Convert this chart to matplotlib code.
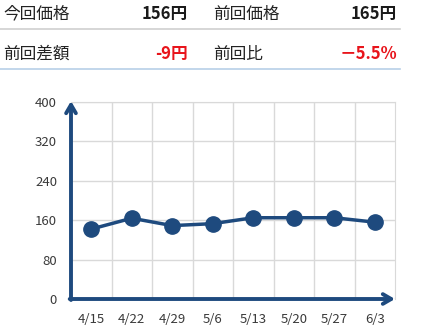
import matplotlib
matplotlib.use("Agg")
from matplotlib import pyplot as plt
from matplotlib.lines import Line2D

plt.rcParams['font.family'] = ['Noto Sans CJK JP', 'DejaVu Sans']

dates = ['4/15', '4/22', '4/29', '5/6', '5/13', '5/20', '5/27', '6/3']
prices = [142, 164, 149, 153, 165, 165, 165, 156]
y_ticks = [0, 80, 160, 240, 320, 400]

header_labels = ['今回価格', '前回価格', '前回差額', '前回比']
header_values = ['156円', '165円', '-9円', '－5.5%']
header_colors = ['#1a1a1a', '#1a1a1a', '#e8141b', '#e8141b']

navy = '#1e4a7e'
W, H = 428, 334

fig = plt.figure(figsize=(W / 100, H / 100), dpi=100)

# header table
rows_y = [14, 54]
for i, (lab, val, col) in enumerate(zip(header_labels, header_values, header_colors)):
    r, c = divmod(i, 2)
    y = 1 - rows_y[r] / H
    xl = (3 if c == 0 else 213) / W
    xr = (188 if c == 0 else 397) / W
    fig.text(xl, y, lab, fontsize=12, color='#222222', va='center', ha='left')
    fig.text(xr, y, val, fontsize=12, color=col, va='center', ha='right', fontweight='bold')
fig.add_artist(Line2D([0, 400 / W], [1 - 28.5 / H] * 2, color='#d0d0d0', lw=1.2))
fig.add_artist(Line2D([0, 400 / W], [1 - 68.5 / H] * 2, color='#b8cfe8', lw=1.2))

# chart
ax = fig.add_axes([71 / W, 1 - 299 / H, (395 - 71) / W, (299 - 102) / H])
x = list(range(len(dates)))
ax.plot(x, prices, color=navy, lw=2.5, marker='o', markersize=11, zorder=3)
ax.set_xlim(-0.5, len(dates) - 0.5)
ax.set_ylim(0, 400)
ax.set_yticks(y_ticks)
ax.set_xticks(x)
ax.set_xticklabels(dates)
ax.set_xticks([i + 0.5 for i in range(len(dates) - 1)], minor=True)
ax.grid(True, which='minor', axis='x', color='#d9d9d9', lw=1)
ax.grid(True, which='major', axis='y', color='#d9d9d9', lw=1)
ax.tick_params(which='both', length=0)
ax.tick_params(axis='y', pad=10, labelsize=9.5, labelcolor='#3a3a3a')
ax.tick_params(axis='x', pad=10, labelsize=9.5, labelcolor='#3a3a3a')
for s in ['left', 'bottom']:
    ax.spines[s].set_visible(False)
for s in ['top', 'right']:
    ax.spines[s].set_color('#d9d9d9')

# axis arrows
arrow = dict(arrowstyle='->,head_length=0.6,head_width=0.35', color=navy, lw=2.8,
             shrinkA=0, shrinkB=0)
ax.annotate('', xy=(0, 1.005), xytext=(0, -0.005), xycoords='axes fraction',
            arrowprops=arrow, annotation_clip=False)
ax.annotate('', xy=(1.0, 0), xytext=(-0.004, 0), xycoords='axes fraction',
            arrowprops=arrow, annotation_clip=False)

fig.savefig('out.png', dpi=100)
